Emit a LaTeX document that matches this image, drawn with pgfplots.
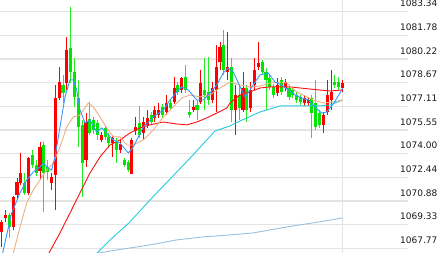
\documentclass[border=0pt]{standalone}
\usepackage{pgfplots}
\pgfplotsset{compat=1.18}
\usepackage{pgfplotstable}
\usepackage{fontspec}
\setmainfont{DejaVu Sans}
\definecolor{cred}{HTML}{FF0000}
\definecolor{cgreen}{HTML}{00E600}
\definecolor{ma5}{HTML}{3399FF}
\definecolor{ma10}{HTML}{EDAE80}
\definecolor{ma20}{HTML}{FF1010}
\definecolor{ma40}{HTML}{22CCDD}
\definecolor{ma60}{HTML}{99C0DD}
\definecolor{gridc}{HTML}{E4E4E4}

% rising candles (red): i open close high low
\pgfplotstableread{
i o c h l
1 1068.84 1069.50 1069.63 1067.86
2 1069.77 1069.96 1070.29 1069.50
4 1069.17 1071.15 1071.21 1068.98
5 1071.28 1072.13 1072.40 1070.95
6 1072.07 1072.73 1074.04 1071.94
8 1071.41 1073.71 1073.78 1071.28
11 1072.86 1074.44 1074.77 1072.27
14 1072.07 1072.46 1072.73 1071.61
15 1072.59 1077.66 1078.52 1070.29
16 1077.66 1078.71 1079.70 1077.53
18 1078.65 1080.82 1081.67 1078.19
23 1073.58 1076.08 1076.67 1073.12
27 1074.90 1075.23 1075.42 1074.77
30 1074.70 1075.03 1075.23 1073.78
32 1074.24 1074.63 1074.90 1074.04
35 1072.66 1074.90 1075.03 1072.66
36 1075.49 1075.75 1076.41 1075.23
38 1075.36 1076.08 1076.41 1074.90
39 1075.89 1076.35 1076.87 1075.69
41 1076.35 1076.87 1077.14 1076.08
42 1076.54 1076.87 1077.33 1076.35
44 1076.74 1077.33 1077.86 1076.54
46 1077.40 1078.32 1079.04 1077.27
48 1078.19 1078.98 1079.04 1077.99
51 1076.87 1077.07 1077.53 1076.74
53 1077.40 1078.65 1079.50 1077.27
56 1077.53 1078.32 1078.71 1077.33
57 1078.19 1079.70 1081.15 1076.74
58 1080.03 1081.02 1081.35 1079.50
60 1079.37 1079.70 1082.00 1078.85
62 1076.87 1077.86 1078.52 1075.23
64 1076.87 1078.32 1079.37 1076.74
66 1077.00 1078.19 1078.71 1076.74
67 1078.52 1079.50 1080.29 1078.19
68 1079.70 1079.96 1081.35 1079.50
73 1077.99 1078.52 1078.98 1077.79
75 1078.32 1078.71 1078.91 1078.12
80 1077.33 1077.66 1077.86 1077.14
81 1077.33 1077.53 1077.73 1077.14
85 1075.89 1076.54 1076.74 1075.36
86 1076.74 1077.86 1078.85 1076.54
87 1077.53 1078.06 1079.50 1076.87
90 1078.32 1078.65 1078.85 1078.06
}\upc

% falling candles (green): i open close high low
\pgfplotstableread{
i o c h l
3 1069.96 1069.17 1070.09 1068.45
7 1072.07 1071.41 1072.73 1071.28
9 1073.91 1073.25 1074.24 1073.05
10 1073.25 1072.73 1073.58 1072.53
12 1074.57 1072.73 1074.77 1070.16
13 1073.12 1072.79 1073.58 1072.27
17 1078.52 1077.99 1079.18 1077.33
19 1080.95 1079.37 1083.65 1078.65
20 1079.37 1077.73 1080.29 1077.07
21 1077.66 1075.75 1078.85 1074.44
22 1075.89 1073.38 1076.21 1071.15
24 1076.28 1075.36 1077.40 1075.23
25 1076.21 1075.56 1076.41 1075.29
26 1076.02 1075.23 1076.21 1074.90
28 1075.69 1075.10 1075.89 1074.90
29 1075.10 1074.70 1075.36 1074.37
31 1074.77 1074.24 1075.03 1073.38
33 1073.58 1073.25 1073.71 1073.12
34 1073.45 1072.92 1073.58 1072.79
37 1076.02 1075.23 1077.14 1075.03
40 1076.54 1076.08 1076.74 1075.89
43 1077.07 1076.54 1077.27 1076.35
45 1077.33 1077.00 1077.53 1076.87
47 1078.52 1078.06 1078.71 1077.86
49 1079.04 1078.19 1079.83 1077.99
50 1076.74 1076.54 1077.53 1076.35
52 1077.20 1076.87 1077.53 1076.21
54 1078.19 1077.86 1080.29 1076.87
55 1078.06 1077.53 1080.36 1077.20
59 1081.15 1079.50 1082.14 1079.18
61 1079.70 1076.87 1080.29 1076.08
63 1077.86 1077.00 1078.52 1076.21
65 1078.32 1076.87 1078.52 1076.08
69 1080.03 1079.37 1080.16 1079.18
70 1079.37 1078.85 1079.63 1076.87
71 1078.98 1078.39 1079.18 1078.19
72 1078.39 1077.86 1078.58 1077.66
74 1078.85 1078.06 1079.04 1077.86
76 1078.32 1077.73 1078.52 1077.53
77 1078.19 1077.86 1078.39 1077.66
78 1077.86 1077.53 1078.06 1077.33
79 1077.73 1077.40 1077.86 1077.20
82 1077.66 1076.67 1077.86 1075.03
83 1077.33 1075.75 1078.85 1075.56
84 1076.67 1075.89 1076.87 1075.69
88 1078.71 1078.52 1079.18 1078.32
89 1078.71 1078.39 1079.04 1078.19
}\downc

\begin{document}
\begin{tikzpicture}
\path[use as bounding box] (0,0) rectangle (444pt,253pt);
\begin{axis}[
  at={(0pt,0pt)}, anchor=south west,
  scale only axis, width=408pt, height=253pt,
  xmin=0.556, xmax=107.08,
  ymin=1067.46, ymax=1084.11,
  axis line style={draw=none},
  major tick length=0pt,
  ymajorgrids, xmajorgrids,
  grid style={gridc, line width=1.5pt},
  xtick={90}, xticklabels={},
  ytick={1067.77,1069.33,1070.88,1072.44,1074.00,1075.55,1077.11,1078.67,1080.22,1081.78,1083.34},
  yticklabels={1067.77,1069.33,1070.88,1072.44,1074.00,1075.55,1077.11,1078.67,1080.22,1081.78,1083.34},
  yticklabel pos=right,
  yticklabel style={anchor=south west, inner sep=0pt, xshift=-8pt, yshift=4.5pt,
    font=\fontsize{9}{10}\selectfont, text=black!90},
  clip=true,
]
% wicks
\addplot[cred, line width=0.9pt, quiver={u=0, v=\thisrow{h}-\thisrow{l}}] table[x=i, y=l] {\upc};
\addplot[cgreen!85!white, line width=0.9pt, quiver={u=0, v=\thisrow{h}-\thisrow{l}}] table[x=i, y=l] {\downc};
% bodies
\addplot[cred, line width=3.1pt, quiver={u=0, v=\thisrow{c}-\thisrow{o}}] table[x=i, y=o] {\upc};
\addplot[cgreen, line width=3.1pt, quiver={u=0, v=\thisrow{c}-\thisrow{o}}] table[x=i, y=o] {\downc};

% MA60-like (light blue)
\addplot[ma60, line width=0.9pt] coordinates {
(25.0,1067.40) (29.28,1067.59) (34.5,1067.79) (39.72,1067.99) (46.69,1068.32)
(53.64,1068.52) (60.61,1068.65) (66.61,1068.78) (75.41,1069.17) (83.71,1069.50) (90.04,1069.77)};
% MA40-like (cyan)
\addplot[ma40, line width=0.9pt] coordinates {
(25.3,1067.30) (29.28,1068.32) (34.24,1069.44) (39.72,1070.95) (45.46,1072.46)
(50.95,1073.91) (56.69,1075.49) (60.61,1075.82) (63.22,1076.15) (68.44,1076.74)
(73.67,1077.14) (78.9,1077.14) (84.11,1077.14) (86.72,1077.20) (90.04,1077.53)};
% MA20 (red)
\addplot[ma20, line width=0.9pt] coordinates {
(13.0,1067.30) (16.22,1068.78) (18.83,1070.09) (21.44,1071.41) (24.06,1072.73)
(26.67,1073.78) (29.28,1074.57) (31.89,1074.90) (34.50,1075.36) (37.11,1075.69)
(39.72,1075.89) (43.1,1076.08) (46.69,1075.95) (49.30,1075.89) (51.92,1076.08)
(54.53,1076.35) (57.14,1076.67) (59.75,1077.00) (60.61,1077.33) (63.22,1077.86)
(65.83,1078.06) (68.44,1078.32) (71.05,1078.39) (76.27,1078.39) (81.49,1078.25)
(86.72,1078.12) (90.04,1078.19)};
% MA10 (tan)
\addplot[ma10, line width=0.9pt] coordinates {
(3.8,1067.20) (4.03,1067.46) (5.78,1069.17) (7.53,1070.75) (9.25,1071.61) (11.0,1072.27)
(12.75,1072.92) (14.47,1073.38) (16.22,1074.44) (17.97,1075.75) (19.69,1076.41)
(21.44,1076.54) (23.61,1077.33) (24.92,1077.07) (26.67,1076.41) (28.42,1075.69)
(30.14,1075.10) (31.89,1075.10) (33.64,1074.57) (35.36,1074.57) (37.97,1074.90)
(40.58,1075.56) (43.19,1076.41) (45.80,1077.07) (48.0,1077.66) (50.17,1077.86)
(52.78,1077.73) (55.39,1077.86) (58.0,1078.32) (60.61,1078.71) (63.22,1078.52)
(65.83,1078.39) (68.44,1078.45) (71.05,1078.65) (73.67,1078.71) (75.41,1078.65)
(78.02,1078.06) (80.64,1077.73) (82.36,1077.53) (84.97,1077.33) (87.58,1077.40) (90.04,1077.53)};
% MA5 (blue)
\addplot[ma5, line width=0.9pt] coordinates {
(1.1,1067.20) (1.42,1067.66) (3.61,1070.09) (5.78,1071.41) (7.53,1072.27) (9.25,1072.79)
(11.0,1073.12) (11.86,1073.38) (13.17,1073.05) (14.05,1072.92) (14.92,1073.78)
(16.22,1075.75) (17.53,1077.73) (18.83,1078.85) (19.69,1078.85) (20.58,1078.19)
(21.44,1076.87) (22.75,1076.02) (24.06,1076.21) (25.8,1075.42) (27.11,1075.69)
(28.42,1075.36) (30.14,1074.90) (31.89,1074.70) (34.06,1074.04) (35.36,1074.44)
(36.67,1075.10) (37.97,1075.75) (40.58,1076.41) (43.19,1076.87) (44.94,1077.53)
(46.69,1078.06) (48.0,1078.39) (49.72,1078.19) (51.92,1077.53) (53.64,1077.53)
(55.39,1077.99) (57.14,1078.52) (58.86,1079.31) (60.17,1079.63) (61.47,1079.37)
(62.78,1078.65) (64.53,1077.73) (65.83,1078.19) (67.14,1078.71) (68.44,1079.18)
(70.61,1079.31) (72.36,1078.71) (74.11,1078.52) (75.83,1078.19) (77.58,1077.86)
(79.33,1077.66) (81.05,1077.53) (82.80,1077.07) (84.55,1076.67) (85.86,1076.74)
(87.58,1077.27) (89.33,1077.99) (90.04,1078.32)};
\end{axis}
\end{tikzpicture}
\end{document}
